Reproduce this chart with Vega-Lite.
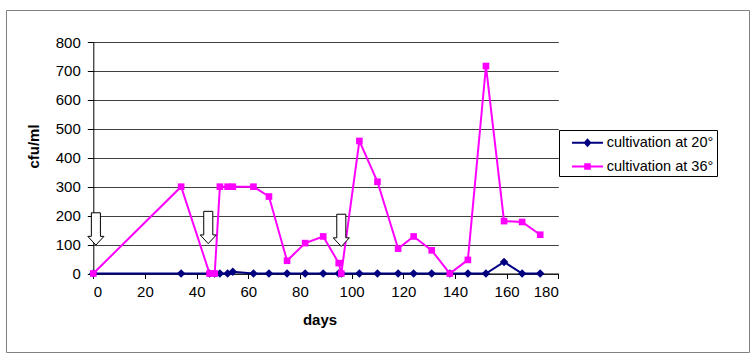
{
  "$schema": "https://vega.github.io/schema/vega-lite/v6.json",
  "width": 743,
  "height": 342,
  "autosize": {"type": "none"},
  "padding": {"left": 6, "top": 10, "right": 7, "bottom": 12},
  "background": "white",
  "config": {
    "view": {"stroke": "#808080", "strokeWidth": 1},
    "font": "Liberation Sans",
    "axis": {
      "labelFont": "Liberation Sans",
      "labelFontSize": 15,
      "labelColor": "#000000",
      "titleFont": "Liberation Sans",
      "titleFontSize": 15,
      "titleFontWeight": "bold",
      "titleColor": "#000000",
      "tickColor": "#000000",
      "domainColor": "#000000",
      "domainWidth": 1,
      "tickWidth": 1
    }
  },
  "datasets": {
    "counts": [
      {"series": "cultivation at 20°", "day": 0, "cfu": 0},
      {"series": "cultivation at 20°", "day": 34, "cfu": 0},
      {"series": "cultivation at 20°", "day": 45, "cfu": 0},
      {"series": "cultivation at 20°", "day": 47, "cfu": 0},
      {"series": "cultivation at 20°", "day": 49, "cfu": 0},
      {"series": "cultivation at 20°", "day": 52, "cfu": 0},
      {"series": "cultivation at 20°", "day": 54, "cfu": 6},
      {"series": "cultivation at 20°", "day": 62, "cfu": 0},
      {"series": "cultivation at 20°", "day": 68, "cfu": 0},
      {"series": "cultivation at 20°", "day": 75, "cfu": 0},
      {"series": "cultivation at 20°", "day": 82, "cfu": 0},
      {"series": "cultivation at 20°", "day": 89, "cfu": 0},
      {"series": "cultivation at 20°", "day": 95, "cfu": 0},
      {"series": "cultivation at 20°", "day": 96, "cfu": 0},
      {"series": "cultivation at 20°", "day": 103, "cfu": 0},
      {"series": "cultivation at 20°", "day": 110, "cfu": 0},
      {"series": "cultivation at 20°", "day": 118, "cfu": 0},
      {"series": "cultivation at 20°", "day": 124, "cfu": 0},
      {"series": "cultivation at 20°", "day": 131, "cfu": 0},
      {"series": "cultivation at 20°", "day": 138, "cfu": 0},
      {"series": "cultivation at 20°", "day": 145, "cfu": 0},
      {"series": "cultivation at 20°", "day": 152, "cfu": 0},
      {"series": "cultivation at 20°", "day": 159, "cfu": 40},
      {"series": "cultivation at 20°", "day": 166, "cfu": 0},
      {"series": "cultivation at 20°", "day": 173, "cfu": 0},
      {"series": "cultivation at 36°", "day": 0, "cfu": 0},
      {"series": "cultivation at 36°", "day": 34, "cfu": 300},
      {"series": "cultivation at 36°", "day": 45, "cfu": 0},
      {"series": "cultivation at 36°", "day": 47, "cfu": 0},
      {"series": "cultivation at 36°", "day": 49, "cfu": 300},
      {"series": "cultivation at 36°", "day": 52, "cfu": 300},
      {"series": "cultivation at 36°", "day": 54, "cfu": 300},
      {"series": "cultivation at 36°", "day": 62, "cfu": 300},
      {"series": "cultivation at 36°", "day": 68, "cfu": 266},
      {"series": "cultivation at 36°", "day": 75, "cfu": 44},
      {"series": "cultivation at 36°", "day": 82, "cfu": 105},
      {"series": "cultivation at 36°", "day": 89, "cfu": 128},
      {"series": "cultivation at 36°", "day": 95, "cfu": 36},
      {"series": "cultivation at 36°", "day": 96, "cfu": 0},
      {"series": "cultivation at 36°", "day": 103, "cfu": 458},
      {"series": "cultivation at 36°", "day": 110, "cfu": 317},
      {"series": "cultivation at 36°", "day": 118, "cfu": 86},
      {"series": "cultivation at 36°", "day": 124, "cfu": 128},
      {"series": "cultivation at 36°", "day": 131, "cfu": 80},
      {"series": "cultivation at 36°", "day": 138, "cfu": 0},
      {"series": "cultivation at 36°", "day": 145, "cfu": 47},
      {"series": "cultivation at 36°", "day": 152, "cfu": 717},
      {"series": "cultivation at 36°", "day": 159, "cfu": 181},
      {"series": "cultivation at 36°", "day": 166, "cfu": 178},
      {"series": "cultivation at 36°", "day": 173, "cfu": 134}
    ],
    "arrows": [
      {"day": 1, "cfu": 154},
      {"day": 44.5, "cfu": 159},
      {"day": 96, "cfu": 149}
    ]
  },
  "data": {"name": "counts"},
  "encoding": {
    "x": {
      "field": "day",
      "type": "quantitative",
      "scale": {"domain": [0, 180], "range": [87.3, 552.3], "nice": false, "zero": false},
      "axis": {
        "values": [0, 20, 40, 60, 80, 100, 120, 140, 160, 180],
        "offset": -78.5,
        "tickSize": 5,
        "labelPadding": 6,
        "grid": false,
        "title": "days",
        "titleX": 313.5,
        "titleY": 46,
        "titleBaseline": "middle",
        "titleAlign": "center"
      }
    },
    "y": {
      "field": "cfu",
      "type": "quantitative",
      "scale": {"domain": [0, 800], "range": [263.5, 32], "nice": false},
      "axis": {
        "values": [0, 100, 200, 300, 400, 500, 600, 700, 800],
        "offset": -87.3,
        "tickSize": 6,
        "labelPadding": 7,
        "grid": true,
        "gridColor": "#404040",
        "gridWidth": 1,
        "title": "cfu/ml",
        "titleAngle": -90,
        "titleX": -60.3,
        "titleY": 136,
        "titleBaseline": "middle",
        "titleAlign": "center"
      }
    }
  },
  "layer": [
    {
      "data": {"values": [{}]},
      "mark": {"type": "rect", "fill": null, "fillOpacity": 0, "stroke": "#000000", "strokeWidth": 1},
      "encoding": {
        "x": {"datum": 0, "type": "quantitative"},
        "x2": {"datum": 180},
        "y": {"datum": 0, "type": "quantitative"},
        "y2": {"datum": 800}
      }
    },
    {
      "transform": [{"filter": "datum.series === 'cultivation at 20°'"}],
      "mark": {"type": "line", "strokeWidth": 2},
      "encoding": {
        "color": {"field": "series", "type": "nominal", "scale": {"range": ["#000080", "#FF00FF"]}, "legend": null}
      }
    },
    {
      "transform": [{"filter": "datum.series === 'cultivation at 20°'"}],
      "mark": {"type": "point", "shape": "diamond", "filled": true, "size": 72, "opacity": 1},
      "encoding": {
        "color": {"field": "series", "type": "nominal", "legend": null}
      }
    },
    {
      "transform": [{"filter": "datum.series === 'cultivation at 36°'"}],
      "mark": {"type": "line", "strokeWidth": 2},
      "encoding": {
        "color": {"field": "series", "type": "nominal", "legend": null}
      }
    },
    {
      "transform": [{"filter": "datum.series === 'cultivation at 36°'"}],
      "mark": {"type": "point", "shape": "square", "filled": true, "size": 44, "opacity": 1},
      "encoding": {
        "color": {"field": "series", "type": "nominal", "legend": null}
      }
    },
    {
      "data": {"name": "arrows"},
      "mark": {
        "type": "point",
        "shape": "M-0.28,-1L0.28,-1L0.28,0.46L0.5,0.46L0,1L-0.5,0.46L-0.28,0.46Z",
        "size": 1044,
        "filled": true,
        "fill": "#ffffff",
        "stroke": "#000000",
        "strokeWidth": 1,
        "opacity": 1
      }
    },
    {
      "transform": [{"filter": "false"}],
      "mark": {"type": "point", "filled": true, "size": 400, "opacity": 1},
      "encoding": {
        "fill": {
          "field": "series",
          "type": "nominal",
          "scale": {"domain": ["cultivation at 20°", "cultivation at 36°"], "range": ["#000080", "#FF00FF"]},
          "legend": {
            "title": null,
            "orient": "none",
            "legendX": 553,
            "legendY": 120,
            "padding": 2.8,
            "symbolOffset": 15.7,
            "labelOffset": 9.2,
            "rowPadding": 6.7,
            "strokeColor": "#000000",
            "fillColor": "#ffffff",
            "labelFont": "Liberation Sans",
            "labelFontSize": 14.5,
            "labelColor": "#000000",
            "labelLimit": 400,
            "symbolSize": 400,
            "symbolStrokeWidth": 0,
            "symbolOpacity": 1,
            "labelExpr": "datum.label + '\u00a0\u00a0\u00a0\u00a0'"
          }
        },
        "shape": {
          "field": "series",
          "type": "nominal",
          "scale": {
            "domain": ["cultivation at 20°", "cultivation at 36°"],
            "range": [
              "M-1.55,-0.1L1.55,-0.1L1.55,0.1L-1.55,0.1Z M0,-0.45L0.4,0L0,0.45L-0.4,0Z",
              "M-1.55,-0.1L1.55,-0.1L1.55,0.1L-1.55,0.1Z M-0.33,-0.33L0.33,-0.33L0.33,0.33L-0.33,0.33Z"
            ]
          },
          "legend": {
            "title": null,
            "orient": "none",
            "legendX": 553,
            "legendY": 120,
            "padding": 2.8,
            "symbolOffset": 15.7,
            "labelOffset": 9.2,
            "rowPadding": 6.7,
            "strokeColor": "#000000",
            "fillColor": "#ffffff",
            "labelFont": "Liberation Sans",
            "labelFontSize": 14.5,
            "labelColor": "#000000",
            "labelLimit": 400,
            "symbolSize": 400,
            "symbolStrokeWidth": 0,
            "symbolOpacity": 1,
            "labelExpr": "datum.label + '\u00a0\u00a0\u00a0\u00a0'"
          }
        }
      }
    }
  ]
}
